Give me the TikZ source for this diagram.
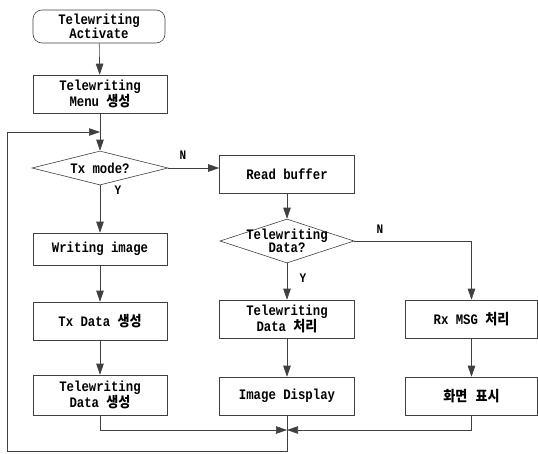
\documentclass[tikz,border=0pt]{standalone}
\usepackage{fontspec}
\usetikzlibrary{shapes.geometric,arrows.meta}
\newfontfamily\mono[FakeStretch=0.85]{Liberation Mono}
\newfontfamily\cjk[FakeStretch=0.9]{Noto Sans CJK KR}
\begin{document}
\begin{tikzpicture}[x=1pt,y=-1pt,
  ln/.style={draw=black!75, line width=0.6pt},
  arr/.style={ln, -{Triangle[length=11pt,width=7.5pt]}},
  box/.style={ln, rectangle, minimum width=134pt, inner sep=0pt, align=center,
     font=\mono\bfseries\fontsize{14.5}{13.5}\selectfont},
  dia/.style={ln, diamond, inner sep=0pt},
  txt/.style={align=center, inner sep=0pt, font=\mono\bfseries\fontsize{14.5}{13.5}\selectfont},
  lbl/.style={inner sep=0pt, font=\mono\bfseries\fontsize{13}{13}\selectfont}]
\useasboundingbox (0,0) rectangle (538,453);
% left column
\node[box, rounded corners=9pt, minimum width=132pt, minimum height=33pt] (act) at (99,26.5) {Telewriting\\Activate};
\node[box, minimum height=38pt] (menu) at (100,94) {Telewriting\\Menu {\cjk 생성}};
\coordinate (loopin) at (100,132);
\node[dia, minimum width=136pt, minimum height=34pt] (d1) at (100,168) {};
\node[txt] at (d1) {Tx mode?};
\node[box, minimum height=32pt] (wimg) at (100,249) {Writing image};
\node[box, minimum height=38pt] (txd) at (100,321) {Tx Data {\cjk 생성}};
\node[box, minimum height=40pt] (twd) at (100,395) {Telewriting\\Data {\cjk 생성}};
% middle column
\node[box, minimum width=135pt, minimum height=38pt] (rb) at (287,174) {Read buffer};
\node[dia, minimum width=134pt, minimum height=44pt] (d2) at (287,241) {};
\node[txt] at (d2) {Telewriting\\Data?};
\node[box, minimum width=135pt, minimum height=38pt] (twp) at (287,319) {Telewriting\\Data {\cjk 처리}};
\node[box, minimum width=135pt, minimum height=38pt] (imd) at (287,396) {Image Display};
% right column
\node[box, minimum width=132pt, minimum height=38pt] (rx) at (471.5,319) {Rx MSG {\cjk 처리}};
\node[box, minimum width=132pt, minimum height=38pt] (hw) at (471.5,396) {{\cjk 화면}\hspace{8pt}{\cjk 표시}};
% labels
\node[lbl] at (183,155) {N};
\node[lbl] at (118,190) {Y};
\node[lbl] at (380,229) {N};
\node[lbl] at (303,278) {Y};
% connectors
\draw[arr] (act) -- (menu);
\draw[arr] (menu) -- (d1.north);
\draw[arr] (d1.east) -- (d1.east -| rb.west);
\draw[arr] (d1.south) -- (wimg.north);
\draw[arr] (wimg) -- (txd);
\draw[arr] (txd) -- (twd);
\draw[arr] (rb.south -| d2.north) -- (d2.north);
\draw[arr] (d2.south) -- (twp.north -| d2.south);
\draw[arr] (twp.south -| d2.south) -- (imd.north -| d2.south);
\coordinate (nr) at (rx.north |- d2.east);
\draw[ln] (d2.east) -- (nr);
\draw[arr] (nr) -- (rx.north);
\draw[arr] (rx) -- (hw);
\coordinate (jn) at (287,430);
\draw[arr] (twd.south) |- (jn);
\draw[arr] (hw.south) |- (jn);
\coordinate (lb) at (7,451);
\draw[ln] (imd.south -| jn) -- (jn);
\draw[arr] (jn) -- (jn |- lb) -- (lb) |- (loopin);
\end{tikzpicture}
\end{document}
